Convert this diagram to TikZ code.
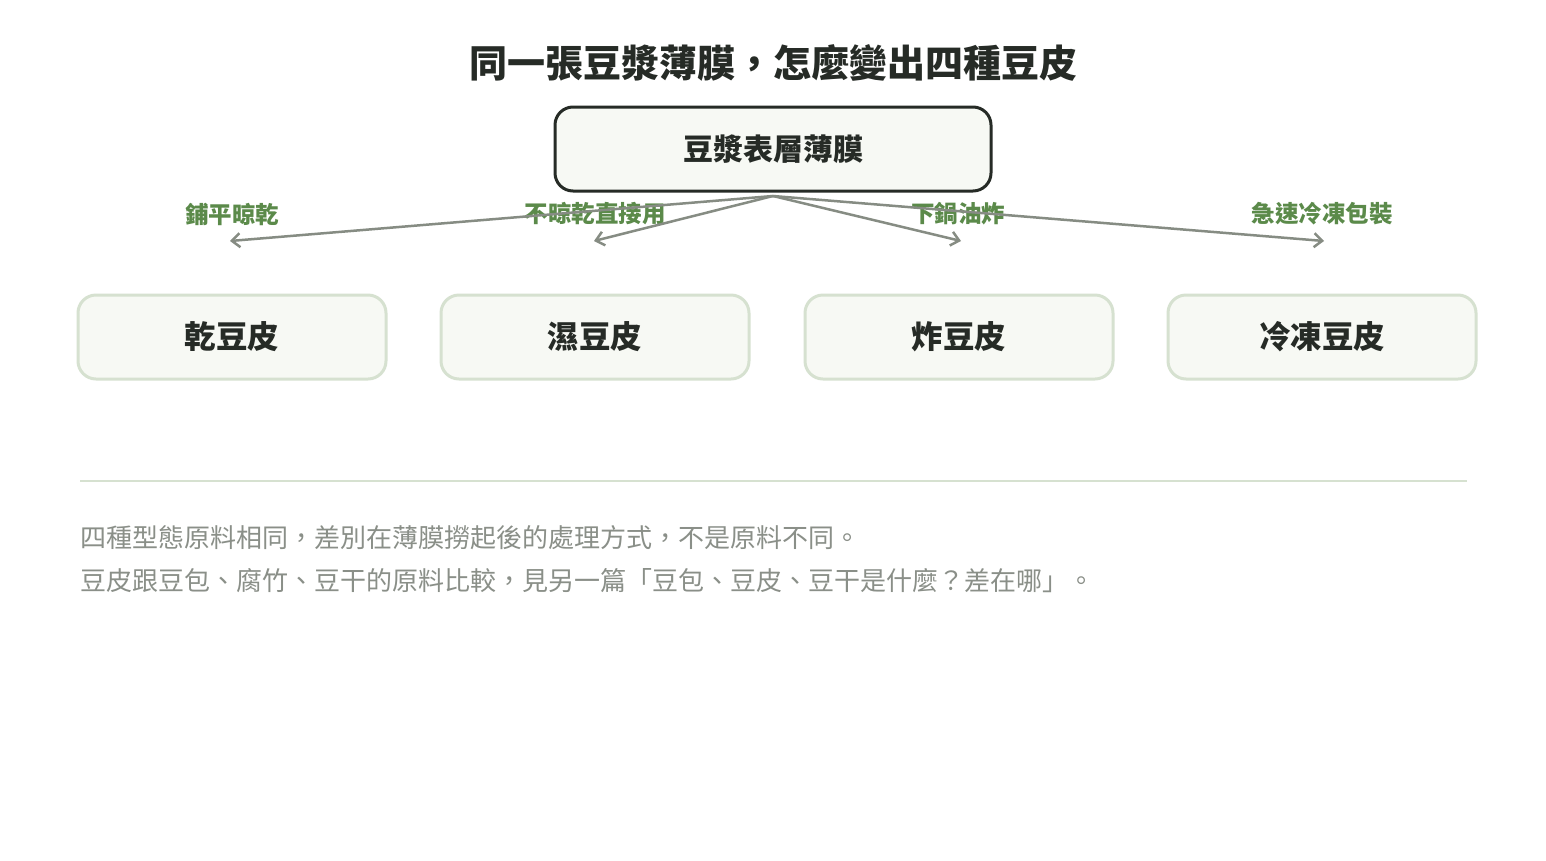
\documentclass[tikz,border=0pt]{standalone}
\usepackage{fontspec}
\setmainfont{Noto Sans CJK TC}
\usetikzlibrary{arrows.meta}
\definecolor{ink}{HTML}{262B26}
\definecolor{leaf}{HTML}{5B8A4A}
\definecolor{stem}{HTML}{868C83}
\definecolor{pale}{HTML}{D6E1D0}
\definecolor{milk}{HTML}{F7F9F4}
\definecolor{note}{HTML}{8A8F88}
\begin{document}
\begin{tikzpicture}[x=1pt,y=-1pt,
	sheet/.style={draw=ink, line width=3pt, fill=milk, rounded corners=18pt,
		minimum width=436pt, minimum height=84pt, font=\bfseries\fontsize{30}{30}\selectfont, text=ink},
	kind/.style={draw=pale, line width=3pt, fill=milk, rounded corners=18pt,
		minimum width=308pt, minimum height=84pt, font=\bfseries\fontsize{31.5}{31.5}\selectfont, text=ink},
	how/.style={font=\bfseries\fontsize{23.5}{23.5}\selectfont, text=leaf},
	flow/.style={draw=stem, line width=2.5pt, -{Straight Barb[length=8pt,width=14pt,line width=2.5pt]}}]
	\fill[white] (0,0) rectangle (1546,860);
	\useasboundingbox (0,0) rectangle (1546,860);
	\node[font=\bfseries\fontsize{38}{38}\selectfont, text=ink] (title) at (773,63) {同一張豆漿薄膜，怎麼變出四種豆皮};
	\node[sheet] (film) at (773,149) {豆漿表層薄膜};
	\node[kind] (dry) at (232,337) {乾豆皮};
	\node[kind] (wet) at (595,337) {濕豆皮};
	\node[kind] (fried) at (959,337) {炸豆皮};
	\node[kind] (frozen) at (1322,337) {冷凍豆皮};
	\node[how] (ldry) at (232,214) {鋪平晾乾};
	\node[how] (lwet) at (595,214) {不晾乾直接用};
	\node[how] (lfried) at (958,214) {下鍋油炸};
	\node[how] (lfrozen) at (1322,214) {急速冷凍包裝};
	\coordinate (src) at (773,196);
	\coordinate (tdry) at (230,241);
	\coordinate (twet) at (594,241);
	\coordinate (tfried) at (961,241);
	\coordinate (tfrozen) at (1324,241);
	\draw[flow] (src) -- (tdry);
	\draw[flow] (src) -- (twet);
	\draw[flow] (src) -- (tfried);
	\draw[flow] (src) -- (tfrozen);
	\coordinate (rulea) at (80,481);
	\coordinate (ruleb) at (1467,481);
	\draw[pale, line width=2pt] (rulea) -- (ruleb);
	\node[anchor=west, font=\fontsize{26}{26}\selectfont, text=note, inner sep=0pt] (noteone) at (80,538) {四種型態原料相同，差別在薄膜撈起後的處理方式，不是原料不同。};
	\node[anchor=west, font=\fontsize{26}{26}\selectfont, text=note, inner sep=0pt] (notetwo) at (80,581) {豆皮跟豆包、腐竹、豆干的原料比較，見另一篇「豆包、豆皮、豆干是什麼？差在哪」。};
\end{tikzpicture}
\end{document}
